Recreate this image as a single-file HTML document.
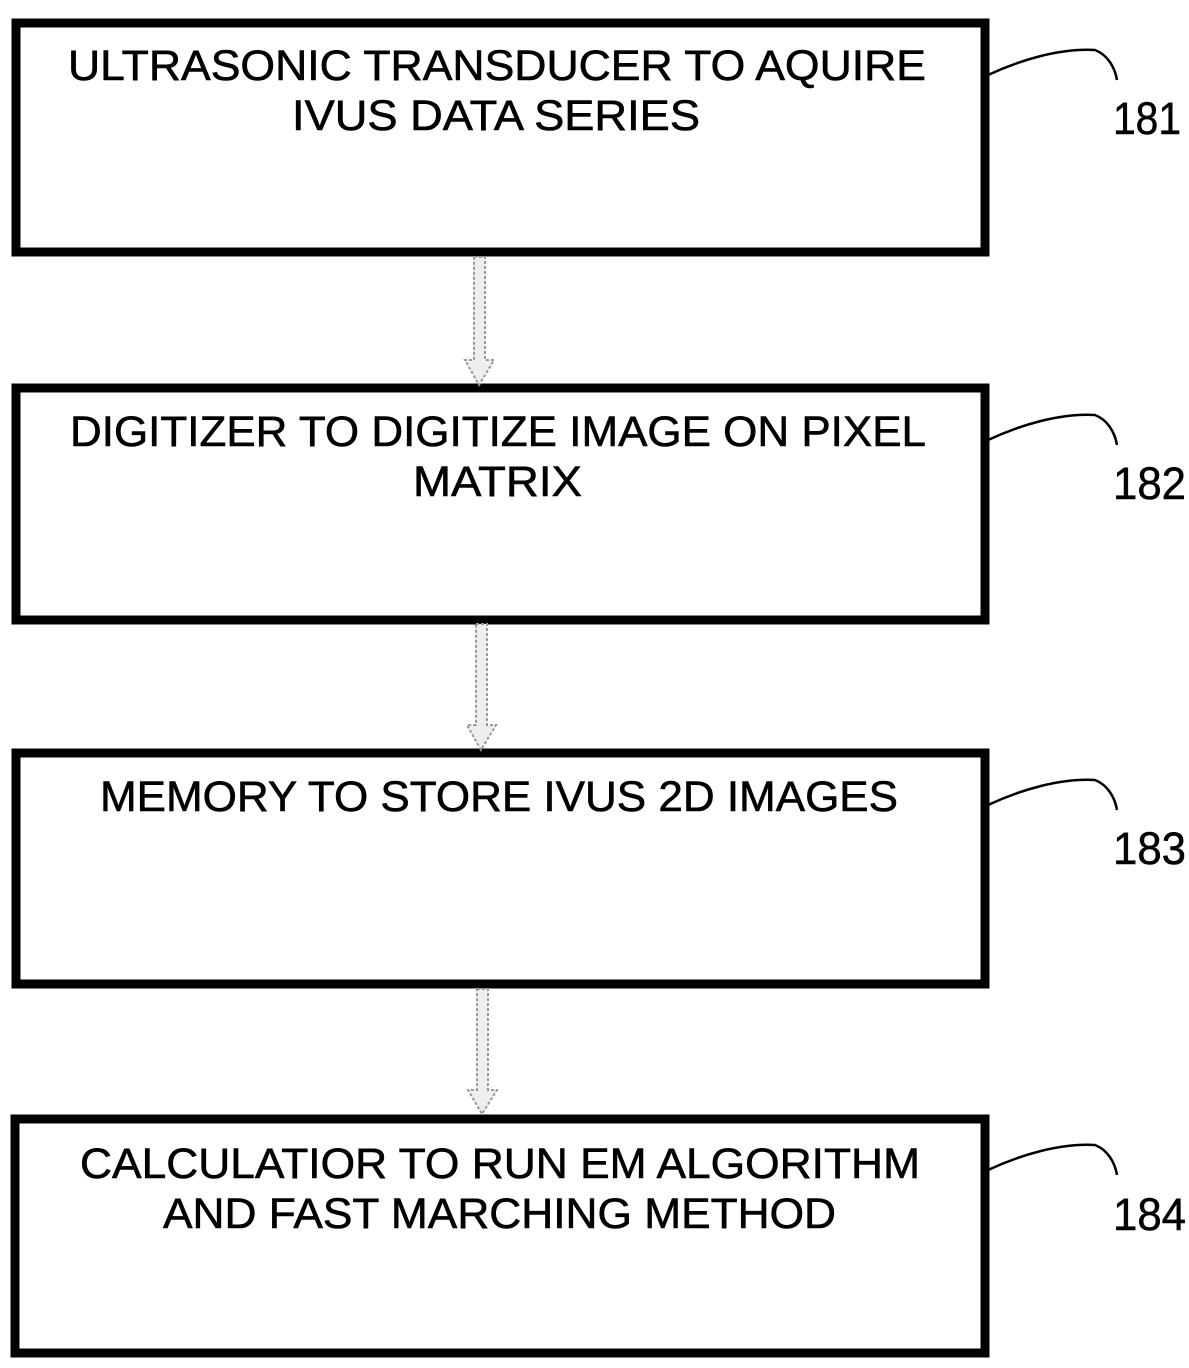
<!DOCTYPE html>
<html><head><meta charset="utf-8"><style>
html,body{margin:0;padding:0;background:#fff;}
svg{display:block;}
text{font-family:"Liberation Sans",Arial,sans-serif;fill:#000;}
</style></head><body>
<svg width="1189" height="1368" viewBox="0 0 1189 1368" xmlns="http://www.w3.org/2000/svg">
<g fill="none" stroke="#000" stroke-width="9">
<rect x="16" y="23" width="969" height="229"/>
<rect x="16" y="388" width="969" height="232"/>
<rect x="16" y="753" width="969" height="231"/>
<rect x="15" y="1119" width="970" height="234"/>
</g>
<g fill="none" stroke="#000" stroke-width="2.5">
<path d="M988 75 C1020 60,1060 48,1095 50 C1108 55,1115 68,1117 80"/>
<path d="M988 440 C1020 425,1060 413,1095 415 C1108 420,1115 433,1117 445"/>
<path d="M988 805 C1020 790,1060 778,1095 780 C1108 785,1115 798,1117 810"/>
<path d="M988 1170 C1020 1155,1060 1143,1095 1145 C1108 1150,1115 1163,1117 1175"/>
</g>
<g fill="#eee" stroke="#999" stroke-width="2" stroke-dasharray="3 2">
<path d="M474 257 L485 257 L485 360 L494 360 L479 385 L465 360 L474 360 Z"/>
<path d="M476 624 L487 624 L487 725 L496 725 L481 750 L467 725 L476 725 Z"/>
<path d="M477 989 L488 989 L488 1090 L497 1090 L482 1114 L468 1090 L477 1090 Z"/>
</g>
<g font-size="43" stroke="#000" stroke-width="0.6">
<text x="68" y="80" textLength="858" lengthAdjust="spacingAndGlyphs">ULTRASONIC TRANSDUCER TO AQUIRE</text>
<text x="292" y="130" textLength="408" lengthAdjust="spacingAndGlyphs">IVUS DATA SERIES</text>
<text x="70" y="446" textLength="856" lengthAdjust="spacingAndGlyphs">DIGITIZER TO DIGITIZE IMAGE ON PIXEL</text>
<text x="413" y="496" textLength="169" lengthAdjust="spacingAndGlyphs">MATRIX</text>
<text x="100" y="811" textLength="798" lengthAdjust="spacingAndGlyphs">MEMORY TO STORE IVUS 2D IMAGES</text>
<text x="80" y="1178" textLength="840" lengthAdjust="spacingAndGlyphs">CALCULATIOR TO RUN EM ALGORITHM</text>
<text x="163" y="1228" textLength="673" lengthAdjust="spacingAndGlyphs">AND FAST MARCHING METHOD</text>
</g>
<g font-size="45" stroke="#000" stroke-width="0.5">
<text x="1113" y="134" textLength="68" lengthAdjust="spacingAndGlyphs">181</text>
<text x="1113" y="499" textLength="73" lengthAdjust="spacingAndGlyphs">182</text>
<text x="1113" y="864" textLength="73" lengthAdjust="spacingAndGlyphs">183</text>
<text x="1113" y="1230" textLength="73" lengthAdjust="spacingAndGlyphs">184</text>
</g>
</svg>
</body></html>
